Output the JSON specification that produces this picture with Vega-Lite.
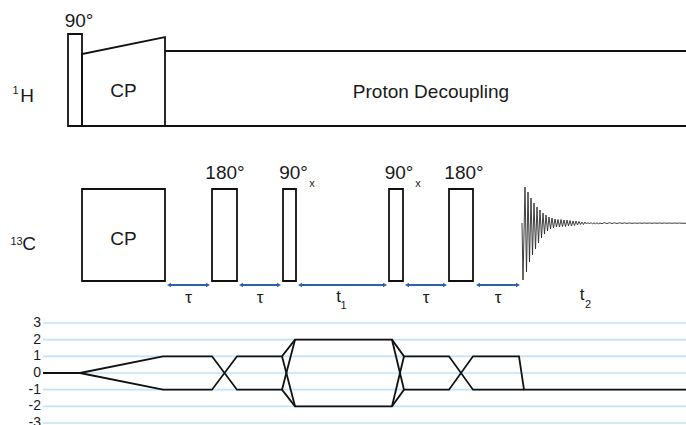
{
  "$schema": "https://vega.github.io/schema/vega-lite/v6.json",
  "width": 686,
  "height": 425,
  "autosize": {"type": "none"},
  "padding": 0,
  "background": "white",
  "config": {"view": {"stroke": null}, "text": {"font": "Liberation Sans", "color": "#1a1a1a"}},
  "datasets": {
    "pulses": [
      {"x": 68, "x2": 82, "y": 34, "y2": 126},
      {"x": 82, "x2": 165, "y": 189, "y2": 281},
      {"x": 212, "x2": 237, "y": 189, "y2": 281},
      {"x": 283, "x2": 296, "y": 189, "y2": 281},
      {"x": 389, "x2": 403, "y": 189, "y2": 281},
      {"x": 449, "x2": 473, "y": 189, "y2": 281}
    ],
    "outline": [
      {"id": "cp", "i": 0, "x": 82, "y": 126},
      {"id": "cp", "i": 1, "x": 82, "y": 54},
      {"id": "cp", "i": 2, "x": 165, "y": 37},
      {"id": "cp", "i": 3, "x": 165, "y": 126},
      {"id": "base", "i": 0, "x": 68, "y": 126},
      {"id": "base", "i": 1, "x": 686, "y": 126},
      {"id": "dec", "i": 0, "x": 165, "y": 51},
      {"id": "dec", "i": 1, "x": 686, "y": 51}
    ],
    "fid": [
      {"x": 522, "y": 223}, {"x": 523, "y": 280}, {"x": 525, "y": 187}, {"x": 526.5, "y": 272},
      {"x": 528, "y": 192}, {"x": 529.5, "y": 262}, {"x": 531, "y": 198}, {"x": 532.5, "y": 255},
      {"x": 534, "y": 203}, {"x": 535.5, "y": 249}, {"x": 537, "y": 207}, {"x": 538.5, "y": 243},
      {"x": 540, "y": 210}, {"x": 541.5, "y": 238}, {"x": 543, "y": 213}, {"x": 544.5, "y": 234},
      {"x": 546, "y": 215}, {"x": 547.5, "y": 231}, {"x": 549, "y": 217}, {"x": 550.5, "y": 229},
      {"x": 552, "y": 218}, {"x": 553.5, "y": 228}, {"x": 555, "y": 219}, {"x": 556.5, "y": 227},
      {"x": 558, "y": 219.5}, {"x": 559.5, "y": 227}, {"x": 561, "y": 219.5}, {"x": 562.5, "y": 226.5},
      {"x": 564, "y": 220}, {"x": 565.5, "y": 226.5}, {"x": 567, "y": 220}, {"x": 568.5, "y": 226},
      {"x": 570, "y": 220.5}, {"x": 571.5, "y": 226}, {"x": 573, "y": 221}, {"x": 574.5, "y": 225.5},
      {"x": 576, "y": 221}, {"x": 577.5, "y": 225}, {"x": 579, "y": 221.5}, {"x": 580.5, "y": 224.5},
      {"x": 582, "y": 222}, {"x": 583.5, "y": 224.5}, {"x": 585, "y": 222}, {"x": 586.5, "y": 224},
      {"x": 588, "y": 222.5}, {"x": 589.5, "y": 224}, {"x": 591, "y": 222.5}, {"x": 592.5, "y": 224},
      {"x": 594, "y": 222.8}, {"x": 595.5, "y": 223.8}, {"x": 597, "y": 222.8}, {"x": 598.5, "y": 223.8},
      {"x": 600, "y": 223}, {"x": 602, "y": 223.7}, {"x": 604.5, "y": 222.6}, {"x": 607, "y": 223.6},
      {"x": 609.5, "y": 222.7}, {"x": 612, "y": 223.5}, {"x": 614.5, "y": 222.8}, {"x": 617, "y": 223.5},
      {"x": 619.5, "y": 222.8}, {"x": 622, "y": 223.4}, {"x": 624.5, "y": 222.9}, {"x": 627, "y": 223.4},
      {"x": 629.5, "y": 222.9}, {"x": 632, "y": 223.4}, {"x": 634.5, "y": 223}, {"x": 637, "y": 223.3},
      {"x": 639.5, "y": 223}, {"x": 642, "y": 223.3}, {"x": 644.5, "y": 223}, {"x": 647, "y": 223.3},
      {"x": 649.5, "y": 223}, {"x": 652, "y": 223.3}, {"x": 654.5, "y": 223}, {"x": 657, "y": 223.3},
      {"x": 659.5, "y": 223}, {"x": 662, "y": 223.3}, {"x": 664.5, "y": 223}, {"x": 667, "y": 223.3},
      {"x": 669.5, "y": 223}, {"x": 672, "y": 223.3}, {"x": 674.5, "y": 223}, {"x": 677, "y": 223.3},
      {"x": 679.5, "y": 223}, {"x": 682, "y": 223.3}, {"x": 686, "y": 223.2}
    ],
    "arrows": [
      {"x": 169, "x2": 208, "y": 285},
      {"x": 241, "x2": 279, "y": 285},
      {"x": 300, "x2": 385, "y": 285},
      {"x": 407, "x2": 445, "y": 285},
      {"x": 478, "x2": 518, "y": 285}
    ],
    "bigText": [
      {"x": 79, "y": 27, "text": "90°"},
      {"x": 123.5, "y": 97, "text": "CP"},
      {"x": 431, "y": 98, "text": "Proton Decoupling"},
      {"x": 27, "y": 102, "text": "H"},
      {"x": 29, "y": 250, "text": "C"},
      {"x": 123.5, "y": 245, "text": "CP"},
      {"x": 225, "y": 179, "text": "180°"},
      {"x": 293.5, "y": 179, "text": "90°"},
      {"x": 399, "y": 179, "text": "90°"},
      {"x": 464, "y": 179, "text": "180°"}
    ],
    "midText": [
      {"x": 188.5, "y": 303, "text": "τ"},
      {"x": 260, "y": 303, "text": "τ"},
      {"x": 426, "y": 303, "text": "τ"},
      {"x": 498, "y": 303, "text": "τ"},
      {"x": 338.5, "y": 302, "text": "t"},
      {"x": 582, "y": 300, "text": "t"}
    ],
    "smallText": [
      {"x": 15.5, "y": 94, "text": "1"},
      {"x": 16.5, "y": 245, "text": "13"},
      {"x": 312, "y": 187, "text": "x"},
      {"x": 418, "y": 187, "text": "x"},
      {"x": 343.5, "y": 309, "text": "1"},
      {"x": 588, "y": 308, "text": "2"}
    ],
    "grid": [
      {"p": 3, "lab": "3", "x": 43, "x2": 686}, {"p": 2, "lab": "2", "x": 43, "x2": 686},
      {"p": 1, "lab": "1", "x": 43, "x2": 686}, {"p": 0, "lab": "0", "x": 43, "x2": 686},
      {"p": -1, "lab": "-1", "x": 43, "x2": 686}, {"p": -2, "lab": "-2", "x": 43, "x2": 686},
      {"p": -3, "lab": "-3", "x": 43, "x2": 686}
    ],
    "path": [
      {"id": "a", "i": 0, "x": 43, "p": 0}, {"id": "a", "i": 1, "x": 80, "p": 0},
      {"id": "a", "i": 2, "x": 163, "p": 1}, {"id": "a", "i": 3, "x": 212, "p": 1},
      {"id": "a", "i": 4, "x": 237, "p": -1}, {"id": "a", "i": 5, "x": 282, "p": -1},
      {"id": "a", "i": 6, "x": 295, "p": -2}, {"id": "a", "i": 7, "x": 392, "p": -2},
      {"id": "a", "i": 8, "x": 404, "p": -1}, {"id": "a", "i": 9, "x": 449, "p": -1},
      {"id": "a", "i": 10, "x": 473, "p": 1}, {"id": "a", "i": 11, "x": 519, "p": 1},
      {"id": "a", "i": 12, "x": 524, "p": -1}, {"id": "a", "i": 13, "x": 686, "p": -1},
      {"id": "b", "i": 0, "x": 80, "p": 0}, {"id": "b", "i": 1, "x": 163, "p": -1},
      {"id": "b", "i": 2, "x": 212, "p": -1}, {"id": "b", "i": 3, "x": 237, "p": 1},
      {"id": "b", "i": 4, "x": 282, "p": 1}, {"id": "b", "i": 5, "x": 295, "p": 2},
      {"id": "b", "i": 6, "x": 392, "p": 2}, {"id": "b", "i": 7, "x": 404, "p": 1},
      {"id": "b", "i": 8, "x": 449, "p": 1}, {"id": "b", "i": 9, "x": 473, "p": -1},
      {"id": "b", "i": 10, "x": 524, "p": -1},
      {"id": "c", "i": 0, "x": 282, "p": 1}, {"id": "c", "i": 1, "x": 295, "p": -2},
      {"id": "d", "i": 0, "x": 282, "p": -1}, {"id": "d", "i": 1, "x": 295, "p": 2},
      {"id": "e", "i": 0, "x": 392, "p": 2}, {"id": "e", "i": 1, "x": 404, "p": -1},
      {"id": "f", "i": 0, "x": 392, "p": -2}, {"id": "f", "i": 1, "x": 404, "p": 1}
    ]
  },
  "encoding": {
    "x": {"field": "x", "type": "quantitative", "scale": {"domain": [0, 686], "nice": false, "zero": false}, "axis": null}
  },
  "layer": [
    {
      "encoding": {
        "y": {"field": "y", "type": "quantitative", "scale": {"domain": [0, 425], "nice": false, "zero": false, "reverse": true}, "axis": null}
      },
      "layer": [
        {
          "data": {"name": "pulses"},
          "mark": {"type": "rect", "filled": false, "color": "#111111", "strokeWidth": 1.8},
          "encoding": {"x2": {"field": "x2"}, "y2": {"field": "y2"}}
        },
        {
          "data": {"name": "outline"},
          "mark": {"type": "line", "color": "#111111", "strokeWidth": 1.8},
          "encoding": {"detail": {"field": "id", "type": "nominal"}, "order": {"field": "i", "type": "quantitative"}}
        },
        {
          "data": {"name": "fid"},
          "mark": {"type": "line", "color": "#2a2a2a", "strokeWidth": 0.9},
          "encoding": {}
        },
        {
          "data": {"name": "arrows"},
          "mark": {"type": "rule", "color": "#2e62ad", "strokeWidth": 2},
          "encoding": {"x2": {"field": "x2"}}
        },
        {
          "data": {"name": "arrows"},
          "transform": [{"fold": ["x", "x2"], "as": ["end", "xe"]}],
          "mark": {"type": "point", "filled": true, "color": "#2e62ad", "opacity": 1, "size": 22},
          "encoding": {
            "x": {"field": "xe", "type": "quantitative"},
            "shape": {"field": "end", "type": "nominal", "scale": {"domain": ["x", "x2"], "range": ["triangle-left", "triangle-right"]}, "legend": null}
          }
        },
        {
          "data": {"name": "bigText"},
          "mark": {"type": "text", "fontSize": 19, "align": "center", "baseline": "alphabetic", "color": "#1a1a1a"},
          "encoding": {"text": {"field": "text"}}
        },
        {
          "data": {"name": "midText"},
          "mark": {"type": "text", "fontSize": 17, "align": "center", "baseline": "alphabetic", "color": "#1a1a1a"},
          "encoding": {"text": {"field": "text"}}
        },
        {
          "data": {"name": "smallText"},
          "mark": {"type": "text", "fontSize": 11, "align": "center", "baseline": "alphabetic", "color": "#1a1a1a"},
          "encoding": {"text": {"field": "text"}}
        }
      ]
    },
    {
      "encoding": {
        "y": {"field": "p", "type": "quantitative", "scale": {"domain": [-3, 3], "range": [423, 323], "nice": false, "zero": false}, "axis": null}
      },
      "layer": [
        {
          "data": {"name": "grid"},
          "mark": {"type": "rule", "color": "#c3e2f5", "strokeWidth": 1.6},
          "encoding": {"x2": {"field": "x2"}}
        },
        {
          "data": {"name": "grid"},
          "mark": {"type": "text", "fontSize": 14, "align": "right", "baseline": "middle", "dx": -2, "color": "#1a1a1a"},
          "encoding": {"text": {"field": "lab"}}
        },
        {
          "data": {"name": "path"},
          "mark": {"type": "line", "color": "#111111", "strokeWidth": 1.8},
          "encoding": {"detail": {"field": "id", "type": "nominal"}, "order": {"field": "i", "type": "quantitative"}}
        }
      ]
    }
  ],
  "resolve": {"scale": {"y": "independent"}}
}
